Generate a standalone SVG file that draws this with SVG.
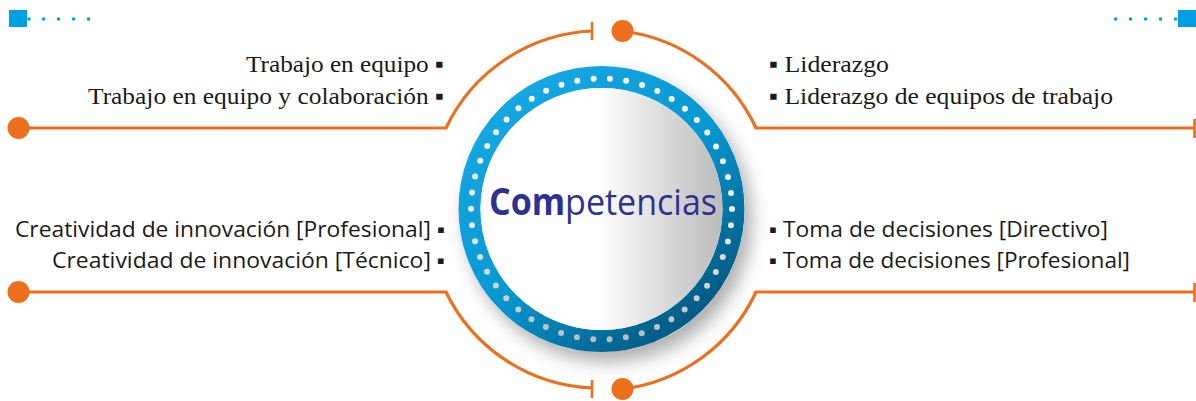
<svg xmlns="http://www.w3.org/2000/svg" width="1196" height="401" viewBox="0 0 1196 401">
<defs>
<style>
.con{fill:none;stroke:#EC6F1E;stroke-width:3.2}
.dot{fill:#EC6F1E}
.tick{stroke:#EC6F1E;stroke-width:2.6}
.serif{font-family:"Liberation Serif","Times New Roman",serif;font-size:24px;fill:#1a1a1a}
.sans{font-family:"Open Sans","Noto Sans",sans-serif;font-size:22px;fill:#1a1a1a}
.deco{fill:#009FE3}
</style>
<linearGradient id="disc" x1="0" y1="0" x2="1" y2="0">
<stop offset="0" stop-color="#ffffff"/>
<stop offset="0.48" stop-color="#ffffff"/>
<stop offset="1" stop-color="#bbbbbb"/>
</linearGradient>
<linearGradient id="ring" x1="0.15" y1="0.1" x2="0.85" y2="0.95">
<stop offset="0" stop-color="#15A7E3"/>
<stop offset="0.5" stop-color="#0797D2"/>
<stop offset="1" stop-color="#00577F"/>
</linearGradient>
<linearGradient id="dots" x1="0" y1="0" x2="0" y2="1">
<stop offset="0" stop-color="#ffffff"/>
<stop offset="0.5" stop-color="#f0f0f0"/>
<stop offset="1" stop-color="#bcbcbc"/>
</linearGradient>
<filter id="sh" x="-20%" y="-20%" width="140%" height="140%">
<feDropShadow dx="7" dy="10" stdDeviation="9" flood-color="#000" flood-opacity="0.32"/>
</filter>
</defs>
<rect width="1196" height="401" fill="#ffffff"/>

<g id="decor-left">
<rect class="deco" x="9" y="10" width="18" height="17"/>
<circle class="deco" cx="29" cy="19" r="1.8"/>
<circle class="deco" cx="43.5" cy="19" r="1.8"/>
<circle class="deco" cx="58.5" cy="19" r="1.8"/>
<circle class="deco" cx="73.5" cy="19" r="1.8"/>
<circle class="deco" cx="88.5" cy="19" r="1.8"/>
</g>
<g id="decor-right">
<rect class="deco" x="1178" y="10" width="18" height="17"/>
<circle class="deco" cx="1115.5" cy="19" r="1.8"/>
<circle class="deco" cx="1130.5" cy="19" r="1.8"/>
<circle class="deco" cx="1145.5" cy="19" r="1.8"/>
<circle class="deco" cx="1160.5" cy="19" r="1.8"/>
<circle class="deco" cx="1175.5" cy="19" r="1.8"/>
</g>

<g id="connectors">
<path class="con" d="M18.5 128 H446 A170 170 0 0 1 592 31"/>
<line class="tick" x1="592" y1="22" x2="592" y2="40"/>
<circle class="dot" cx="18.5" cy="128" r="11"/>
<path class="con" d="M622.5 31 A170 170 0 0 1 756 128 H1194.5"/>
<circle class="dot" cx="622.5" cy="31" r="11"/>
<line class="tick" x1="1194.5" y1="119" x2="1194.5" y2="138"/>
<path class="con" d="M18.5 292 H446 A170 170 0 0 0 592 388"/>
<line class="tick" x1="592" y1="380" x2="592" y2="398"/>
<circle class="dot" cx="18.5" cy="292" r="11"/>
<path class="con" d="M622.5 389 A170 170 0 0 0 756 292 H1194.5"/>
<circle class="dot" cx="622.5" cy="389" r="11"/>
<line class="tick" x1="1194.5" y1="283" x2="1194.5" y2="302"/>
</g>

<g id="center">
<circle cx="601.5" cy="209" r="143" fill="#ffffff" filter="url(#sh)"/>
<circle cx="601.5" cy="209" r="132" fill="none" stroke="url(#ring)" stroke-width="22"/>
<circle cx="601.5" cy="209" r="121" fill="url(#disc)"/>
<circle cx="601.5" cy="209" r="130.5" fill="none" stroke="url(#dots)" stroke-width="6" stroke-linecap="round" stroke-dasharray="0 16.399"/>
<text x="489" y="215" textLength="228" lengthAdjust="spacingAndGlyphs" font-family="'Open Sans','Noto Sans',sans-serif" font-size="37" fill="#2E3192"><tspan font-weight="bold">Com</tspan>petencias</text>
</g>

<g id="node-trabajo">
<text class="serif" x="444" y="72" text-anchor="end" textLength="198" lengthAdjust="spacingAndGlyphs">Trabajo en equipo ▪</text>
<text class="serif" x="444" y="104" text-anchor="end" textLength="356" lengthAdjust="spacingAndGlyphs">Trabajo en equipo y colaboración ▪</text>
</g>
<g id="node-liderazgo">
<text class="serif" x="769" y="72" textLength="120" lengthAdjust="spacingAndGlyphs">▪ Liderazgo</text>
<text class="serif" x="769" y="104" textLength="344" lengthAdjust="spacingAndGlyphs">▪ Liderazgo de equipos de trabajo</text>
</g>
<g id="node-creatividad">
<text class="sans" x="445" y="237" text-anchor="end" textLength="430" lengthAdjust="spacingAndGlyphs">Creatividad de innovación [Profesional] ▪</text>
<text class="sans" x="445" y="268" text-anchor="end" textLength="393" lengthAdjust="spacingAndGlyphs">Creatividad de innovación [Técnico] ▪</text>
</g>
<g id="node-decisiones">
<text class="sans" x="769" y="237" textLength="339" lengthAdjust="spacingAndGlyphs">▪ Toma de decisiones [Directivo]</text>
<text class="sans" x="769" y="268" textLength="361" lengthAdjust="spacingAndGlyphs">▪ Toma de decisiones [Profesional]</text>
</g>
</svg>
